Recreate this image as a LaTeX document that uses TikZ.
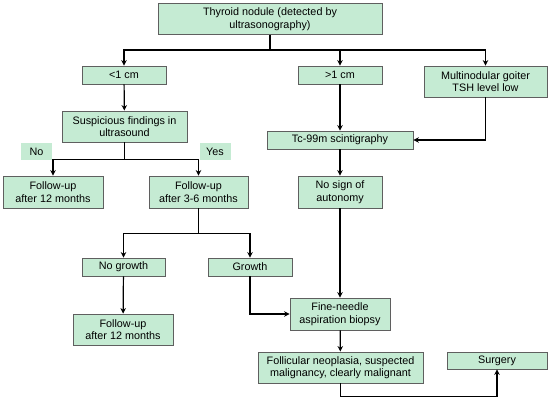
\documentclass[tikz,border=0pt]{standalone}
\usepackage{fontspec}
\setmainfont{Liberation Sans}
\usepackage{xcolor}
\usetikzlibrary{arrows.meta}
\definecolor{boxgreen}{RGB}{197,235,211}
\definecolor{boxline}{RGB}{95,95,95}

\begin{document}
\begin{tikzpicture}[x=1pt,y=-1pt,>={Stealth[length=5.5pt,width=5.5pt]},
  box/.style={draw=boxline,fill=boxgreen,line width=0.9pt,align=center,
    inner sep=0pt,minimum height=18pt,font=\fontsize{10.8}{12.5}\selectfont},
  tall/.style={box,minimum height=31pt},
  answer/.style={fill=boxgreen,inner sep=0pt,minimum width=31pt,
    minimum height=17pt,font=\fontsize{10.8}{12.5}\selectfont},
  link/.style={line width=1.2pt}]
  \useasboundingbox (0,0) rectangle (550,400);

  % 出発点
  \node[tall,minimum width=224pt] (nodule) at (270,19)
    {Thyroid nodule (detected by\\ultrasonography)};

  % 大きさによる分類
  \node[box,minimum width=84pt] (small) at (124,75) {<1 cm};
  \node[box,minimum width=84pt] (large) at (340,75) {>1 cm};
  \node[tall,minimum width=123pt] (goiter) at (485.5,81.5)
    {Multinodular goiter\\TSH level low};

  % 左の枝
  \node[tall,minimum width=125pt] (suspect) at (124.5,126.5)
    {Suspicious findings in\\ultrasound};
  \node[answer] (no) at (36.5,151.5) {No};
  \node[answer] (yes) at (215,151.5) {Yes};
  \node[tall,minimum width=100pt,minimum height=32pt] (followA) at (53,192)
    {Follow-up\\after 12 months};
  \node[tall,minimum width=99pt,minimum height=32pt] (followB) at (198.5,192)
    {Follow-up\\after 3-6 months};
  \node[box,minimum width=83pt] (nogrowth) at (123.5,267) {No growth};
  \node[box,minimum width=84pt] (growth) at (250,267) {Growth};
  \node[tall,minimum width=100pt] (followC) at (123,329.5)
    {Follow-up\\after 12 months};

  % 右の枝
  \node[box,minimum width=146pt] (scinti) at (340,140) {Tc-99m scintigraphy};
  \node[tall,minimum width=84pt,minimum height=32pt] (autonomy) at (340,192)
    {No sign of\\autonomy};
  \node[tall,minimum width=100pt,minimum height=32pt] (biopsy) at (340,314)
    {Fine-needle\\aspiration biopsy};
  \node[tall,minimum width=165pt] (malign) at (340.5,367.5)
    {Follicular neoplasia, suspected\\malignancy, clearly malignant};
  \node[box,minimum width=100pt,minimum height=17pt] (surgery) at (497,360.5)
    {Surgery};

  % 矢印
  \draw[link,->] (nodule.south) -- ++(0,15) -| (small.north);
  \draw[link,->] (nodule.south) -- ++(0,15) -| (large.north);
  \draw[link,->] (nodule.south) -- ++(0,15) -| (goiter.north);
  \draw[link,->] (small) -- (suspect);
  \draw[link,->] (large) -- (scinti);
  \draw[link,->] (goiter.south) |- (scinti.east);
  \draw[link,->] (suspect.south) -- ++(0,17) -| (followA.north);
  \draw[link,->] (suspect.south) -- ++(0,17) -| (followB.north);
  \draw[link,->] (followB.south) -- ++(0,25) -| (nogrowth.north);
  \draw[link,->] (followB.south) -- ++(0,25) -| (growth.north);
  \draw[link,->] (nogrowth) -- (followC);
  \draw[link,->] (growth.south) |- (biopsy.west);
  \draw[link,->] (scinti) -- (autonomy);
  \draw[link,->] (autonomy) -- (biopsy);
  \draw[link,->] (biopsy) -- (malign);
  \draw[link,->] (malign.south) -- ++(0,13) -| (surgery.south);
\end{tikzpicture}
\end{document}
